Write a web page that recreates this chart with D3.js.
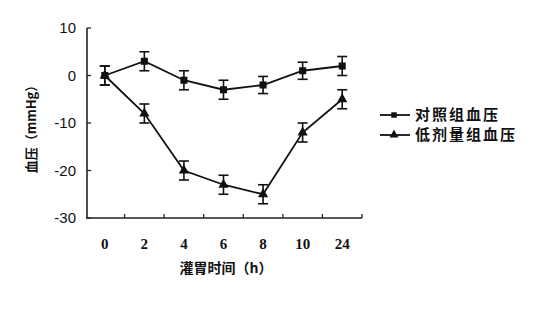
<!DOCTYPE html>
<html>
<head>
<meta charset="utf-8">
<script src="https://cdn.jsdelivr.net/npm/d3@7"></script>
<style>
  body { margin: 0; background: #fff; }
  svg { display: block; }
</style>
</head>
<body>
<svg id="chart" width="554" height="310"></svg>
<script>
const hours = ["0", "2", "4", "6", "8", "10", "24"]
const yTicks = [10, 0, -10, -20, -30]
const control = [0, 3, -1, -3, -2, 1, 2]
const controlErr = [2, 2, 2, 2, 1.8, 1.8, 2]
const lowDose = [0, -8, -20, -23, -25, -12, -5]
const lowDoseErr = [2, 2, 2, 2, 2, 2, 2]
const seriesNames = ["对照组血压", "低剂量组血压"]

const svg = d3.select('#chart')
const cjk = '"Noto Sans CJK SC", sans-serif'

const x = d3.scaleBand().domain(hours).range([85, 362])
const y = d3.scaleLinear().domain([-30, 10]).range([218, 28])

// axes
svg.append('line')
    .attr('x1', 87).attr('x2', 87)
    .attr('y1', y(10)).attr('y2', y(-30))
    .attr('stroke', '#222').attr('stroke-width', 1.6)
svg.append('line')
    .attr('x1', 86).attr('x2', 362)
    .attr('y1', y(-30)).attr('y2', y(-30))
    .attr('stroke', '#222').attr('stroke-width', 1.6)

svg.append('g')
    .selectAll('line')
    .data(yTicks)
    .join('line')
    .attr('x1', 87).attr('x2', 91)
    .attr('y1', d => y(d)).attr('y2', d => y(d))
    .attr('stroke', '#222').attr('stroke-width', 1.3)

svg.append('g')
    .selectAll('text')
    .data(yTicks)
    .join('text')
    .attr('x', 76)
    .attr('y', d => y(d) + 5)
    .attr('text-anchor', 'end')
    .attr('font-family', 'Liberation Sans, Arial, sans-serif')
    .attr('font-size', 15)
    .attr('fill', '#111')
    .text(d => d < 0 ? '-' + Math.abs(d) : d)

// x ticks at band boundaries
svg.append('g')
    .selectAll('line')
    .data(hours.slice(1).concat(['end']))
    .join('line')
    .attr('x1', d => d === 'end' ? 362 : x(d))
    .attr('x2', d => d === 'end' ? 362 : x(d))
    .attr('y1', y(-30)).attr('y2', y(-30) - 4)
    .attr('stroke', '#222').attr('stroke-width', 1.3)

svg.append('g')
    .selectAll('text')
    .data(hours)
    .join('text')
    .attr('x', d => x(d) + x.bandwidth() / 2)
    .attr('y', 249)
    .attr('text-anchor', 'middle')
    .attr('font-family', 'Liberation Serif, serif')
    .attr('font-weight', 'bold')
    .attr('font-size', 15)
    .attr('fill', '#111')
    .text(d => d)

// titles
svg.append('text')
    .attr('x', 226).attr('y', 273)
    .attr('text-anchor', 'middle')
    .attr('font-family', cjk).attr('font-weight', 'bold')
    .attr('font-size', 14).attr('fill', '#111')
    .text('灌胃时间（h）')

svg.append('text')
    .attr('transform', 'translate(36,126) rotate(-90)')
    .attr('text-anchor', 'middle')
    .attr('font-family', cjk).attr('font-weight', 'bold')
    .attr('font-size', 13).attr('fill', '#111')
    .text('血压（mmHg）')

// series
const cx = d => x(d) + x.bandwidth() / 2
const line = d3.line().x(d => cx(d.h)).y(d => y(d.v))

function drawSeries(vals, errs, shape) {
    const data = hours.map((h, i) => ({h: h, v: vals[i], e: errs[i]}))
    const g = svg.append('g')
    g.append('path')
        .datum(data)
        .attr('d', line)
        .attr('fill', 'none')
        .attr('stroke', '#111')
        .attr('stroke-width', 1.8)
    const eb = g.selectAll('.eb').data(data).join('g')
    eb.append('line')
        .attr('x1', d => cx(d.h)).attr('x2', d => cx(d.h))
        .attr('y1', d => y(d.v + d.e)).attr('y2', d => y(d.v - d.e))
        .attr('stroke', '#111').attr('stroke-width', 1.6)
    eb.append('line')
        .attr('x1', d => cx(d.h) - 5).attr('x2', d => cx(d.h) + 5)
        .attr('y1', d => y(d.v + d.e)).attr('y2', d => y(d.v + d.e))
        .attr('stroke', '#111').attr('stroke-width', 1.6)
    eb.append('line')
        .attr('x1', d => cx(d.h) - 5).attr('x2', d => cx(d.h) + 5)
        .attr('y1', d => y(d.v - d.e)).attr('y2', d => y(d.v - d.e))
        .attr('stroke', '#111').attr('stroke-width', 1.6)
    g.selectAll('.mk').data(data).join('path')
        .attr('transform', d => `translate(${cx(d.h)},${y(d.v)})`)
        .attr('d', d3.symbol().type(shape).size(shape === d3.symbolSquare ? 50 : 45))
        .attr('fill', '#111')
}

drawSeries(control, controlErr, d3.symbolSquare)
drawSeries(lowDose, lowDoseErr, d3.symbolTriangle)

// legend
const legend = svg.append('g')
    .selectAll('g')
    .data(seriesNames)
    .join('g')
    .attr('transform', (d, i) => `translate(380,${115 + i * 20})`)
legend.append('line')
    .attr('x1', 0).attr('x2', 30)
    .attr('stroke', '#111').attr('stroke-width', 1.8)
legend.append('path')
    .attr('transform', 'translate(14,0)')
    .attr('d', (d, i) => d3.symbol().type(i === 0 ? d3.symbolSquare : d3.symbolTriangle).size(i === 0 ? 30 : 35)())
    .attr('fill', '#111')
legend.append('text')
    .attr('x', 35).attr('y', 5)
    .attr('font-family', cjk).attr('font-weight', 'bold')
    .attr('font-size', 15).attr('letter-spacing', 2)
    .attr('fill', '#111')
    .text(d => d)
</script>
</body>
</html>
